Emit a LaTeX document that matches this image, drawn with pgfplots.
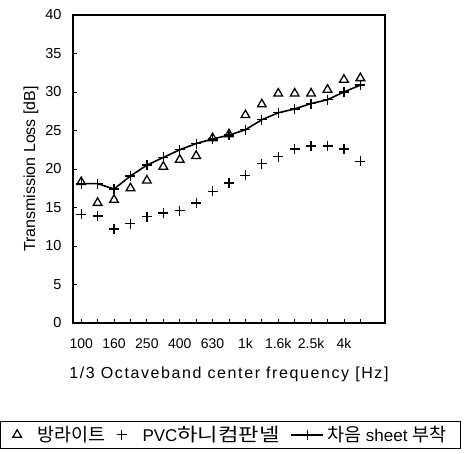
\documentclass[border=0pt]{standalone}
\usepackage{fontspec}
\setmainfont{Liberation Sans}
\newfontfamily\kr{Noto Sans CJK KR}
\usepackage{pgfplots}
\pgfplotsset{compat=1.18}
\newcommand{\KR}[1]{{\kr\fontsize{18.5}{20}\selectfont #1}}
\pgfplotsset{longleg/.style={legend image code/.code={\draw[mark repeat=2,mark phase=2,##1] plot coordinates {(0pt,0pt) (16pt,0pt) (32pt,0pt)};}}}
\begin{document}
\begin{tikzpicture}
\begin{axis}[
  scale only axis,
  width=312pt, height=308pt,
  xmin=-0.5, xmax=18.5,
  ymin=0, ymax=40,
  ytick={0,5,...,40},
  xtick={0,...,17},
  xticklabels={100,,160,,250,,400,,630,,1k,,1.6k,,2.5k,,4k,},
  tick align=inside,
  major tick length=4pt,
  tick style={line width=0.8pt, black},
  axis line style={line width=1.5pt},
  ytick pos=left, xtick pos=bottom,
  xticklabel style={font=\fontsize{14}{16}\selectfont, yshift=-12pt},
  yticklabel style={font=\fontsize{14.5}{16}\selectfont, xshift=-8pt},
  /pgf/number format/assume math mode=true,
  xlabel={\addfontfeatures{LetterSpace=10}1/3 Octaveband center frequency [Hz]},
  ylabel={Transmission Loss [dB]},
  label style={font=\fontsize{16}{18}\selectfont},
  xlabel style={at={(axis description cs:0.5,-0.179)}, anchor=base},
  ylabel style={at={(axis description cs:-0.135,0.5)}, anchor=center},
  legend columns=3,
  legend style={at={(0.505,-0.318)}, anchor=north, draw=black, line width=0.8pt,
    font=\fontsize{17}{19}\selectfont, inner ysep=3pt, inner xsep=12pt,
    /tikz/every odd column/.append style={column sep=1pt},
    /tikz/every even column/.append style={column sep=9pt}},
  legend cell align=left,
]
\addplot[only marks, mark=triangle, mark size=5pt, mark options={line width=1.3pt}] coordinates {
(0,18.3)(1,15.6)(2,16.0)(3,17.5)(4,18.5)(5,20.3)(6,21.2)(7,21.7)(8,24.0)(9,24.5)
(10,27.0)(11,28.4)(12,29.8)(13,29.8)(14,29.8)(15,30.3)(16,31.6)(17,31.8)};
\addlegendentry{\hspace*{13pt}\KR{방라이트}}
\addplot[only marks, mark=+, mark size=5pt, mark options={line width=1.3pt}] coordinates {
(0,14.1)(1,13.9)(2,12.2)(3,12.9)(4,13.8)(5,14.3)(6,14.6)(7,15.6)(8,17.1)(9,18.2)
(10,19.2)(11,20.7)(12,21.6)(13,22.6)(14,23.0)(15,23.0)(16,22.6)(17,21.0)};
\addlegendentry{\hspace*{13pt}PVC{\kr\fontsize{18.5}{20}\selectfont\addfontfeatures{FakeStretch=1.2}하니컴판넬}}
\addplot[line width=1.6pt, mark=+, mark size=5pt, mark options={line width=1.3pt}, longleg] coordinates {
(0,18.1)(1,18.1)(2,17.4)(3,19.1)(4,20.5)(5,21.5)(6,22.5)(7,23.3)(8,23.9)(9,24.4)
(10,25.1)(11,26.4)(12,27.3)(13,27.8)(14,28.5)(15,29.0)(16,30.0)(17,30.9)};
\addlegendentry{\KR{차음} sheet \KR{부착}}
\end{axis}
\path (current axis.south west) ++(-73pt,-131pt) coordinate (bbA);
\path (current axis.north west) ++(391pt,15pt) coordinate (bbB);
\path (bbA) rectangle (bbB);
\end{tikzpicture}
\end{document}
